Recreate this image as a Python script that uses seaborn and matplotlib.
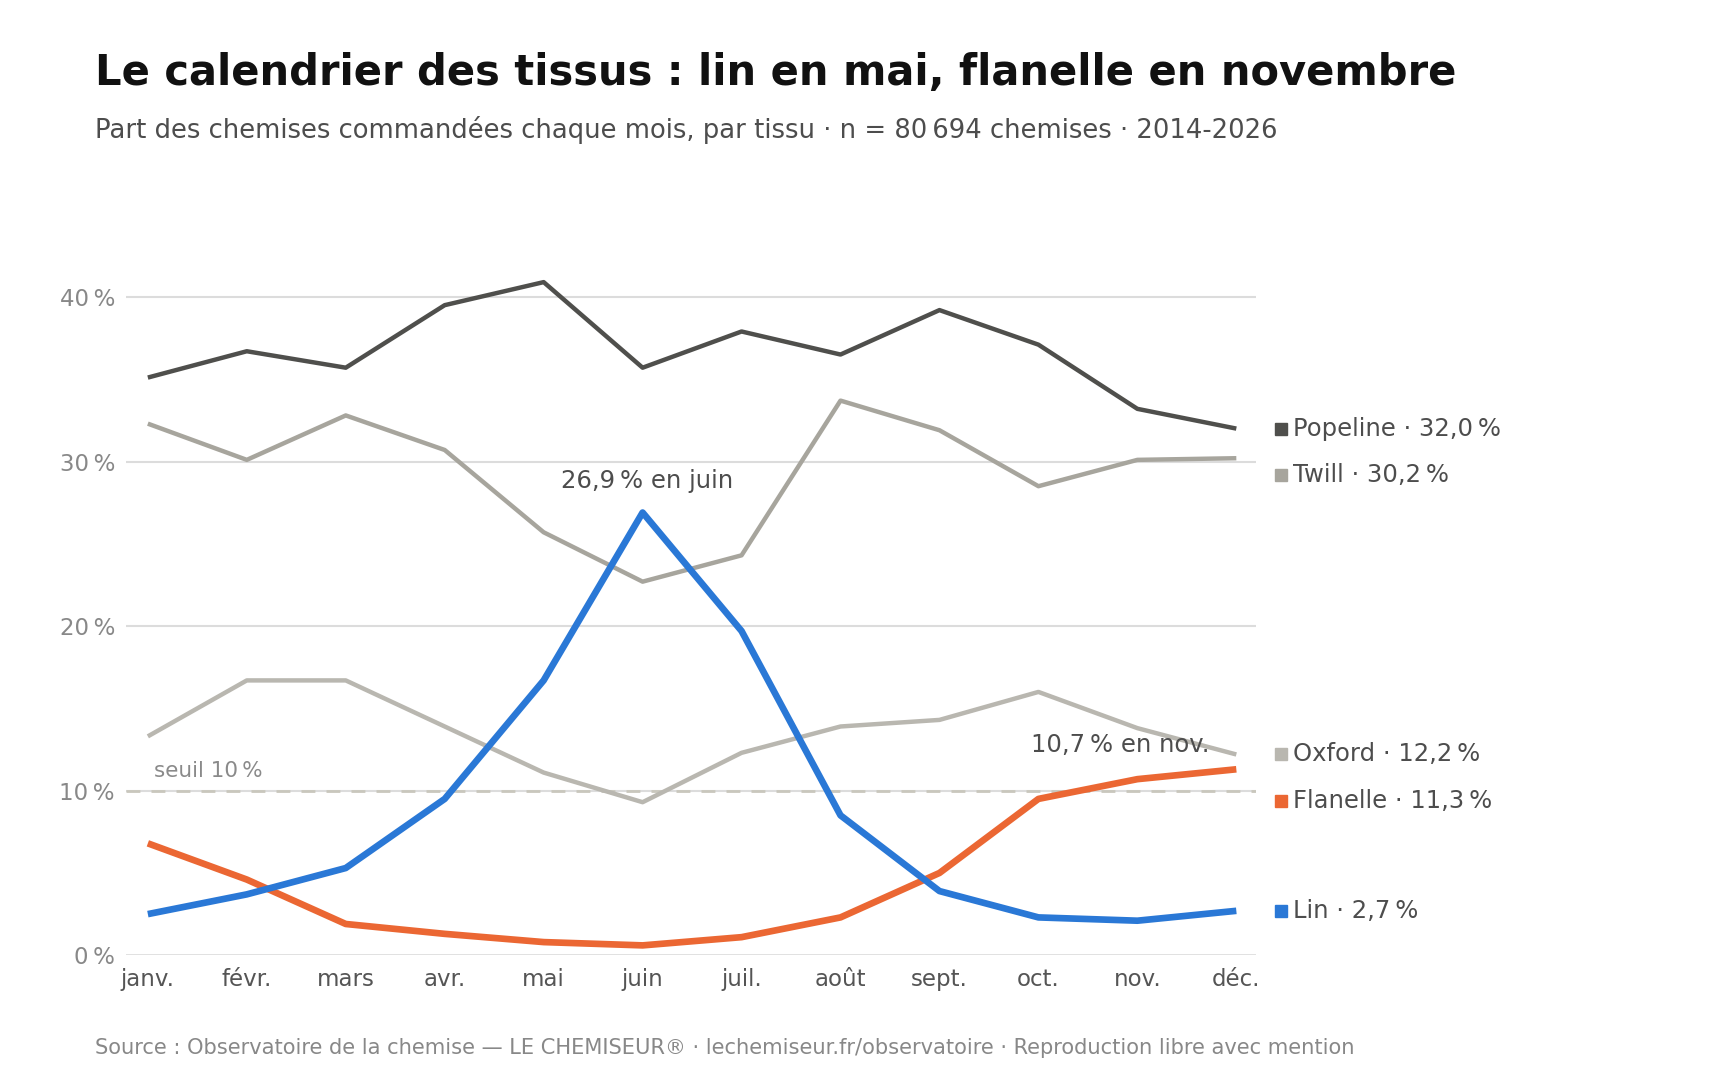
import numpy as np
import pandas as pd
import matplotlib
matplotlib.use('Agg')
import matplotlib.pyplot as plt
import seaborn as sns

MONTHS = ['janv.', 'févr.', 'mars', 'avr.', 'mai', 'juin',
          'juil.', 'août', 'sept.', 'oct.', 'nov.', 'déc.']
FABRICS = ['Popeline', 'Twill', 'Oxford', 'Flanelle', 'Lin']

popeline = [35.1, 36.7, 35.7, 39.5, 40.9, 35.7, 37.9, 36.5, 39.2, 37.1, 33.2, 32.0]
twill = [32.3, 30.1, 32.8, 30.7, 25.7, 22.7, 24.3, 33.7, 31.9, 28.5, 30.1, 30.2]
oxford = [13.3, 16.7, 16.7, 13.9, 11.1, 9.3, 12.3, 13.9, 14.3, 16.0, 13.8, 12.2]
flanelle = [6.8, 4.6, 1.9, 1.3, 0.8, 0.6, 1.1, 2.3, 5.0, 9.5, 10.7, 11.3]
lin = [2.5, 3.7, 5.3, 9.5, 16.7, 26.9, 19.7, 8.5, 3.9, 2.3, 2.1, 2.7]

COLORS = {'Popeline': '#4f4f4c', 'Twill': '#a7a59d', 'Oxford': '#b9b7b0',
          'Flanelle': '#eb6733', 'Lin': '#2a78d6'}
WIDTHS = {'Popeline': 3.2, 'Twill': 3.2, 'Oxford': 3.2, 'Flanelle': 4.8, 'Lin': 4.8}

series = {'Popeline': popeline, 'Twill': twill, 'Oxford': oxford,
          'Flanelle': flanelle, 'Lin': lin}
df = pd.DataFrame([
    {'mois': i, 'tissu': f, 'part': v}
    for f in FABRICS for i, v in enumerate(series[f])
])

sns.set_style('white')
plt.rcParams['font.family'] = ['DejaVu Sans']

fig = plt.figure(figsize=(17.2, 10.8), dpi=100)
ax = fig.add_axes([0.0733, 0.1155, 0.657, 0.701])

# grid
for g in [10, 20, 30, 40]:
    ax.axhline(g, color='#dcdcdc', lw=1.5, zorder=0)
ax.axhline(0, color='#dcdcdc', lw=1.2, zorder=0)
ax.axhline(10, color='#c9c7bd', lw=2, ls=(0, (5, 4)), zorder=1)
ax.text(0.06, 10.6, 'seuil 10\u202f%', color='#8a8a8a', fontsize=15.5,
        ha='left', va='bottom')

# grey lines first, then the colored ones
order = ['Oxford', 'Twill', 'Popeline', 'Flanelle', 'Lin']
for f in order:
    sub = df[df['tissu'] == f]
    sns.lineplot(data=sub, x='mois', y='part', color=COLORS[f],
                 linewidth=WIDTHS[f], ax=ax, legend=False,
                 solid_capstyle='butt', zorder=3)

ax.set_xlim(-0.22, 11.2)
ax.set_ylim(0, 46)
ax.set_xticks(range(12))
ax.set_xticklabels(MONTHS, fontsize=16.5, color='#555555')
ax.set_yticks([0, 10, 20, 30, 40])
ax.set_yticklabels(['0\u202f%', '10\u202f%', '20\u202f%', '30\u202f%', '40\u202f%'],
                   fontsize=16.5, color='#888888')
ax.tick_params(axis='x', length=0, pad=9)
ax.tick_params(axis='y', length=0, pad=8)
ax.set_xlabel('')
ax.set_ylabel('')
for s in ax.spines.values():
    s.set_visible(False)

# end labels with simple declutter
last = {f: series[f][-1] for f in FABRICS}
label_y = {}
min_gap = 2.8
prev = None
for f in sorted(FABRICS, key=lambda k: -last[k]):
    y = last[f]
    if prev is not None and prev - y < min_gap:
        y = prev - min_gap
    label_y[f] = y
    prev = y
for f in FABRICS:
    val = f'{last[f]:.1f}'.replace('.', ',')
    ax.plot([11.45], [label_y[f]], marker='s', ms=8, color=COLORS[f],
            clip_on=False, ls='none')
    ax.text(11.57, label_y[f], f'{f} · {val}\u202f%', fontsize=17.5,
            color='#4d4d4d', va='center', ha='left', clip_on=False)

# annotations
ax.text(5.05, 26.9 + 1.9, '26,9\u202f% en juin', fontsize=17.5, color='#4d4d4d',
        ha='center', va='center')
ax.text(9.83, 10.7 + 2.1, '10,7\u202f% en nov.', fontsize=17.5, color='#4d4d4d',
        ha='center', va='center')

fig.text(0.0555, 0.932, 'Le calendrier des tissus : lin en mai, flanelle en novembre',
         fontsize=30, fontweight='bold', color='#111111', ha='left', va='center')
fig.text(0.0555, 0.880, 'Part des chemises commandées chaque mois, par tissu · n = 80\u202f694 chemises · 2014-2026',
         fontsize=18.6, color='#4d4d4d', ha='left', va='center')
fig.text(0.0555, 0.030, 'Source : Observatoire de la chemise — LE CHEMISEUR® · lechemiseur.fr/observatoire · Reproduction libre avec mention',
         fontsize=15.1, color='#888888', ha='left', va='center')

fig.savefig('out.png', dpi=100)
